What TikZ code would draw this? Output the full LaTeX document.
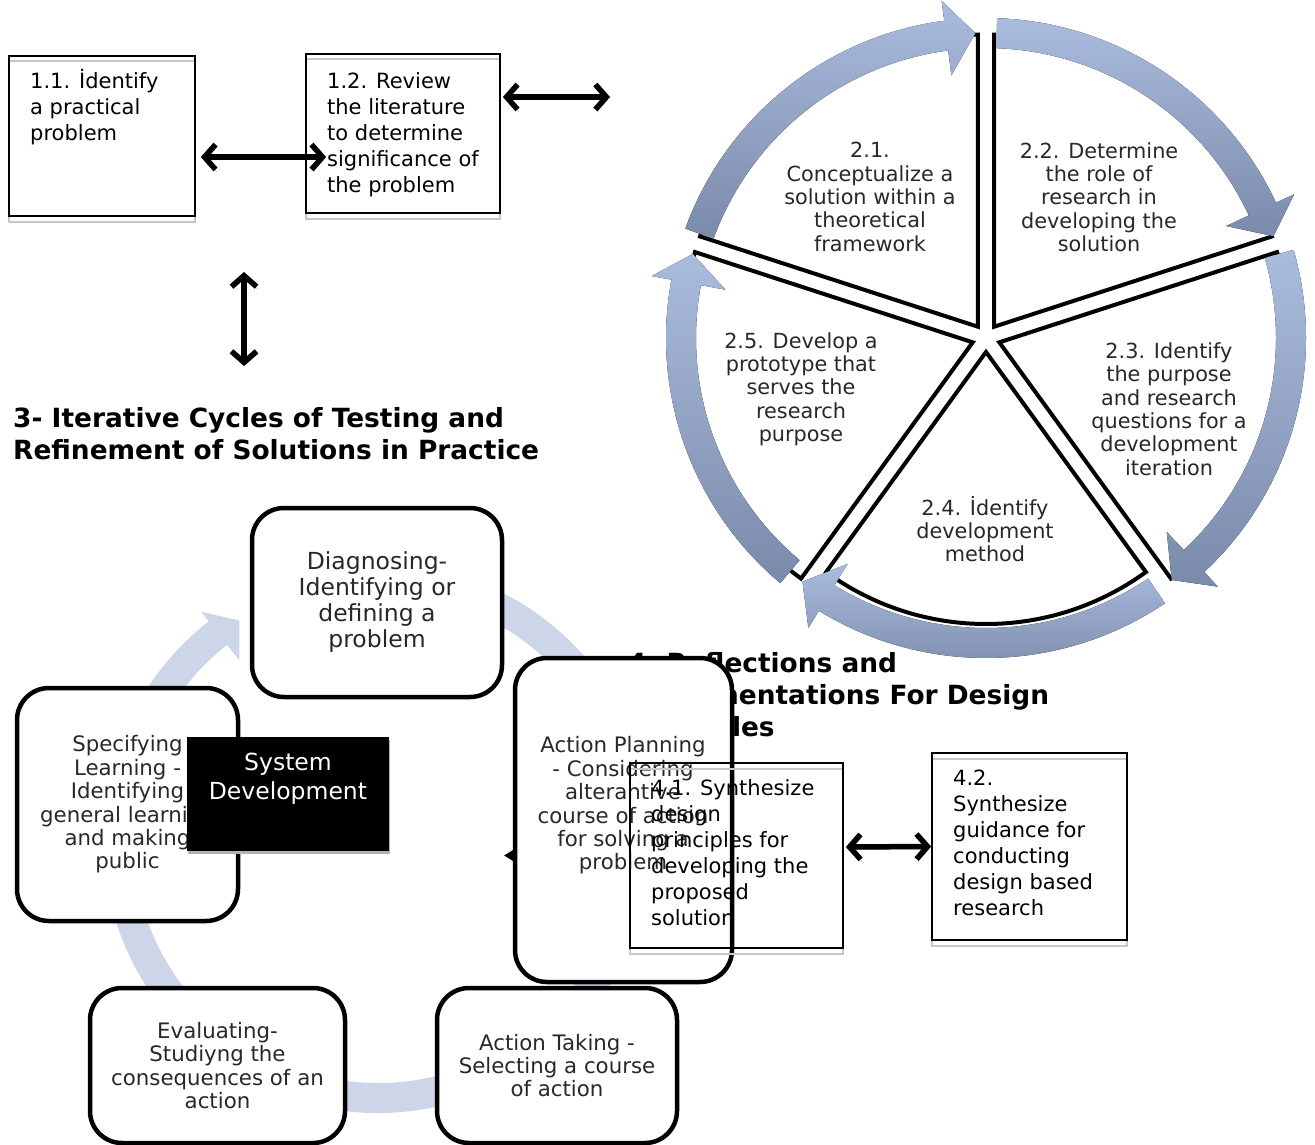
\documentclass[tikz,border=0pt]{standalone}
\usepackage{fontspec}
\setmainfont{DejaVu Sans}
\usetikzlibrary{arrows.meta,backgrounds}
\definecolor{ringlight}{RGB}{170,188,222}
\definecolor{ringdark}{RGB}{122,138,170}
\definecolor{paleband}{RGB}{205,214,232}
\definecolor{softtext}{RGB}{40,40,40}
\newcommand{\setfs}[2]{\fontsize{#1}{#2}\selectfont}
\tikzset{
  plainbox/.style={draw, line width=1.7pt,
    preaction={draw=black!22, line width=2pt, transform canvas={yshift=-5.5pt}}},
  boxtext/.style={anchor=north west, inner sep=0pt, align=left, font=\setfs{21}{26}},
  cycletext/.style={align=center, text=softtext, font=\setfs{21.3}{23.4}},
  cyclebox/.style={cycletext, draw, line width=4.5pt, rounded corners=32pt, fill=white},
  wedgetext/.style={align=center, text=softtext, font=\setfs{20.8}{23.3}},
  heading/.style={anchor=north west, inner sep=0pt, align=left, font=\setfs{26.4}{32}\bfseries},
  dblarrow/.style={line width=5.5pt,
    {Straight Barb[length=11pt,width=25pt]}-{Straight Barb[length=11pt,width=25pt]},
    preaction={draw=black!30, transform canvas={xshift=1.5pt,yshift=-2.5pt}}},
  tinyarrow/.style={line width=3pt, -{Triangle[length=13pt,width=15pt]}},
}
\begin{document}
\begin{tikzpicture}[x=1pt,y=-1pt]
\useasboundingbox (0,0) rectangle (1315,1145);

%development cycle: exploded wedges, then the arrows round them
\begin{scope}[shift={(986,338)}, y=1pt]
  \foreach \a/\r in {90/292,18/292,-54/292,-126/272,162/292}
  {
    \draw[line width=4pt, fill=white]
      (\a+36:14) -- ++(\a:\r) arc[start angle=\a, end angle=\a+72, radius=\r] -- cycle;
  }
  \foreach \t/\p in {160/92,88/19.5,16/-52.5,-56/-127,230/164}
  {
    \fill[top color=ringlight, bottom color=ringdark]
      (\t:320) arc[start angle=\t, end angle=\p+5.5, radius=320]
      -- (\p+5.5:340) -- (\p:305) -- (\p+5.5:265) -- (\p+5.5:290)
      arc[start angle=\p+5.5, end angle=\t, radius=290] -- cycle;
  }
\end{scope}

\node[wedgetext] (w21) at (870,197) {2.1.\\Conceptualize a\\solution within a\\theoretical\\framework};
\node[wedgetext] (w22) at (1099,197) {2.2. Determine\\the role of\\research in\\developing the\\solution};
\node[wedgetext] (w23) at (1169,409) {2.3. Identify\\the purpose\\and research\\questions for a\\development\\iteration};
\node[wedgetext] (w24) at (985,529) {2.4. İdentify\\development\\method};
\node[wedgetext] (w25) at (801,389) {2.5. Develop a\\prototype that\\serves the\\research\\purpose};

%problem boxes
\node[plainbox, minimum width=186, minimum height=160] (b11) at (102,136) {};
\node[boxtext] (t11) at (30,69) {1.1. İdentify\\a practical\\problem};
\node[plainbox, minimum width=194, minimum height=159] (b12) at (403,133.5) {};
\node[boxtext] (t12) at (327,72) {1.2. Review\\the literature\\to determine\\significance of\\the problem};

\coordinate (cycleEnd) at (610,97);
\coordinate (upEnd) at (244,272);
\coordinate (downEnd) at (244,366);
\draw[dblarrow] ([xshift=5pt,yshift=-21pt]b11.east) -- ([xshift=21pt,yshift=-23.5pt]b12.west);
\draw[dblarrow] ([xshift=2pt,yshift=36.5pt]b12.east) -- (cycleEnd);
\draw[dblarrow] (upEnd) -- (downEnd);

\node[heading] (head3) at (13,407) {3- Iterative Cycles of Testing and\\Refinement of Solutions in Practice};

%action research cycle
\begin{scope}[shift={(378,838)}, y=1pt]
  \fill[paleband] (100:275) arc[start angle=100, end angle=-232, radius=275]
    -- (-232:287) -- (-237.5:258) -- (-232:225) -- (-232:245)
    arc[start angle=-232, end angle=100, radius=245] -- cycle;
\end{scope}

\node[heading] (head4) at (628,652) {4- Reflections and\\Implementations For Design\\Principles};

\node[cyclebox, minimum width=250, minimum height=189, font=\setfs{23.5}{26}] (diag) at (377,602.5)
  {Diagnosing-\\Identifying or\\defining a\\problem};
\node[cyclebox, minimum width=221, minimum height=233] (spec) at (127.5,804.5)
  {Specifying\\Learning -\\Identifying\\general learning\\and making\\public};
\node[fill=black, minimum width=202, minimum height=114,
  preaction={fill=black!30, transform canvas={xshift=1pt,yshift=-3pt}}] (sysdev) at (288,794) {};
\node[text=white, align=center, font=\setfs{23.5}{29}] (sysdevtext) at (288,779) {System\\Development};

\node[cyclebox, minimum width=217, minimum height=324] (plan) at (623.5,820) {};
\node[cycletext] (plantext) at (623,805.5)
  {Action Planning\\- Considering\\alterantive\\course of action\\for solving a\\problem};

\node[cyclebox, minimum width=240, minimum height=155] (take) at (557,1065.5)
  {Action Taking -\\Selecting a course\\of action};
\node[cyclebox, minimum width=255, minimum height=155] (eval) at (217.5,1065.5)
  {Evaluating-\\Studiyng the\\consequences of an\\action};

%design principle boxes
\node[plainbox, minimum width=213, minimum height=185] (b41) at (736.5,855.5) {};
\node[boxtext] (t41) at (651,779) {4.1. Synthesize\\design\\principles for\\developing the\\proposed\\solution};
\node[plainbox, minimum width=195, minimum height=187] (b42) at (1029.5,846.5) {};
\node[boxtext] (t42) at (953,770) {4.2.\\Synthesize\\guidance for\\conducting\\design based\\research};

\draw[dblarrow] ([xshift=2pt,yshift=8.5pt]b41.east) -- (b42.west);

\coordinate (planTip) at (504,855.5);
\begin{pgfonlayer}{background}
  \draw[tinyarrow] (b41.west) -- (planTip);
\end{pgfonlayer}
\end{tikzpicture}
\end{document}
